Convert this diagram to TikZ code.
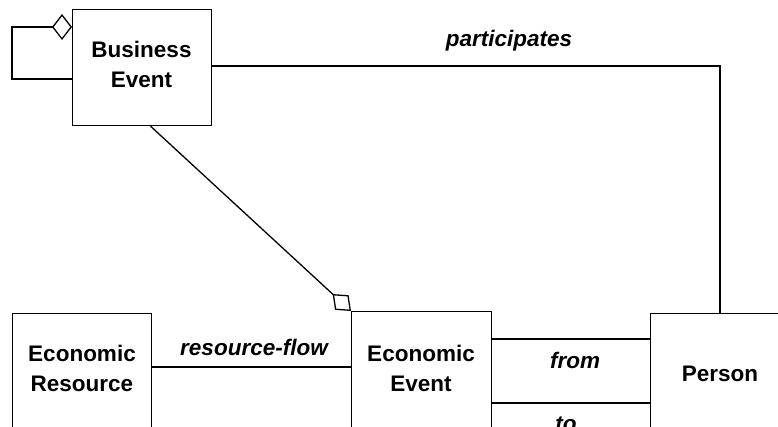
\documentclass[tikz,border=0pt]{standalone}
\usepackage{fontspec}
\setmainfont{Liberation Sans}
\usetikzlibrary{arrows.meta}
\begin{document}
\begin{tikzpicture}[x=1pt,y=-1pt,
  box/.style={draw, line width=1.3pt, minimum width=139pt, inner sep=0pt, anchor=north west},
  boxtext/.style={font=\fontsize{22.5}{30}\selectfont\bfseries, align=center, inner sep=0pt},
  role/.style={font=\fontsize{22.5}{27}\selectfont\bfseries\itshape, inner sep=0pt, anchor=base},
  link/.style={line width=1.3pt},
  agg/.style 2 args={-{Diamond[open, length=#1, width=#2]}}]
  \useasboundingbox (0,0) rectangle (778,427);
  \clip (0,0) rectangle (778,427);

  % classes
  \node[box, minimum height=116pt] (be) at (72,9) {};
  \node[box, minimum height=140pt] (er) at (12,313) {};
  \node[box, minimum height=140pt, minimum width=140pt] (ee) at (351,311) {};
  \node[box, minimum height=140pt, minimum width=160pt] (pe) at (650,313) {};

  \node[boxtext] (be-t) at (141.5,64.5) {Business\\Event};
  \node[boxtext] (er-t) at (82,368.5) {Economic\\Resource};
  \node[boxtext] (ee-t) at (421,368.5) {Economic\\Event};
  \node[boxtext, anchor=base] (pe-t) at (720,381) {Person};

  % self aggregation of Business Event
  \coordinate (loop) at (12,27);
  \draw[link, agg={20pt}{26pt}] ([yshift=-70pt]be.north west) -| (loop) -- ([yshift=-18pt]be.north west);

  % participates
  \draw[link] ([yshift=-57pt]be.north east) -| ([xshift=70pt]pe.north west);

  % Business Event aggregates Economic Events
  \draw[link, agg={25pt}{20pt}] ([xshift=8.5pt]be.south) -- (ee.north west);

  % resource-flow, from, to
  \draw[link] ([yshift=-54pt]er.north east) -- ([yshift=-56pt]ee.north west);
  \draw[link] ([yshift=-28pt]ee.north east) -- ([yshift=-26pt]pe.north west);
  \draw[link] ([yshift=-92pt]ee.north east) -- ([yshift=-90pt]pe.north west);

  % association names
  \node[role] (l-part) at (509,47) {participates};
  \node[role] (l-rf) at (254,355) {resource-flow};
  \node[role] (l-from) at (575,368) {from};
  \node[role] (l-to) at (566,431) {to};
\end{tikzpicture}
\end{document}
